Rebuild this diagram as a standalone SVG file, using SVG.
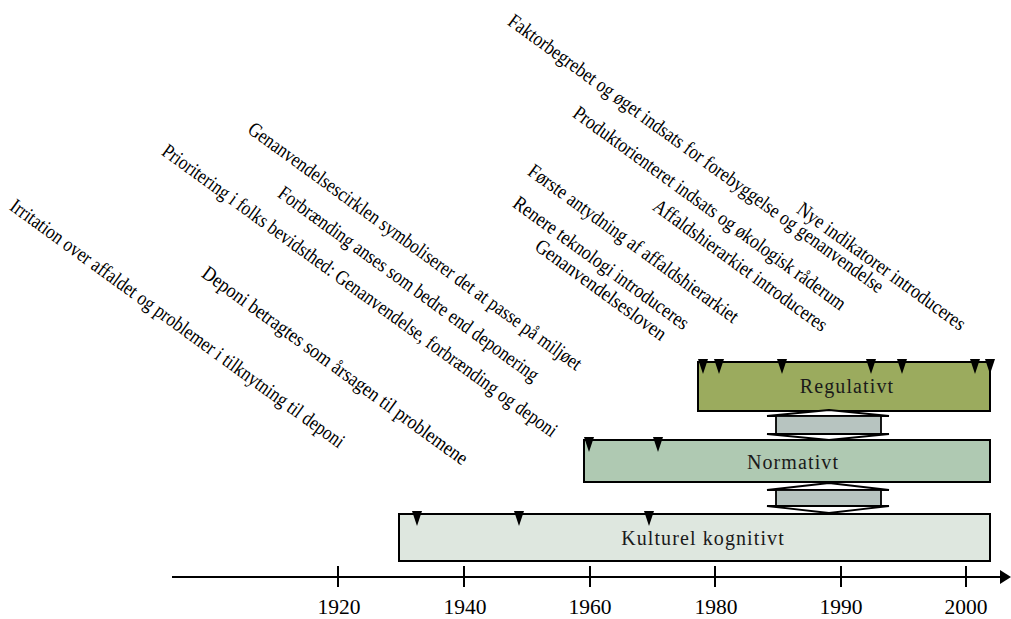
<svg xmlns="http://www.w3.org/2000/svg" width="1011" height="619" viewBox="0 0 1011 619">
<style>
.lbl{font-family:"Liberation Serif","Times New Roman",serif;font-size:20.5px;fill:#000}
.box{stroke:#000;stroke-width:2}
.btxt{font-family:"Liberation Serif","Times New Roman",serif;font-size:20px;fill:#1a1a1a;text-anchor:middle;letter-spacing:1.1px}
.yr{font-family:"Liberation Serif","Times New Roman",serif;font-size:21.5px;fill:#000;text-anchor:middle}
.ax{stroke:#000;stroke-width:2;fill:none}
.arr{fill:#fff;stroke:#000;stroke-width:1.8;stroke-linejoin:miter}
.shaft{fill:#b7c4c0;stroke:#000;stroke-width:1.8}
</style>
<defs>
<polygon id="tri" points="-5,-3 5,-3 0,12" fill="#000"/>
</defs>

<g id="events">
<text class="lbl" transform="translate(8.5,208.9) rotate(36)" textLength="408" lengthAdjust="spacingAndGlyphs">Irritation over affaldet og problemer i tilknytning til deponi</text>
<text class="lbl" transform="translate(200.5,275.9) rotate(36)" textLength="323" lengthAdjust="spacingAndGlyphs">Deponi betragtes som årsagen til problemene</text>
<text class="lbl" transform="translate(160.5,153.9) rotate(36)" textLength="483" lengthAdjust="spacingAndGlyphs">Prioritering i folks bevidsthed: Genanvendelse, forbrænding og deponi</text>
<text class="lbl" transform="translate(276.5,195.9) rotate(36)" textLength="317" lengthAdjust="spacingAndGlyphs">Forbrænding anses som bedre end deponering</text>
<text class="lbl" transform="translate(246.5,131.9) rotate(36)" textLength="407" lengthAdjust="spacingAndGlyphs">Genanvendelsescirklen symboliserer det at passe på miljøet</text>
<text class="lbl" transform="translate(533.5,248.9) rotate(36)" textLength="157" lengthAdjust="spacingAndGlyphs">Genanvendelsesloven</text>
<text class="lbl" transform="translate(511.5,205.9) rotate(36)" textLength="212" lengthAdjust="spacingAndGlyphs">Renere teknologi introduceres</text>
<text class="lbl" transform="translate(526.5,173.9) rotate(36)" textLength="255" lengthAdjust="spacingAndGlyphs">Første antydning af affaldshierarkiet</text>
<text class="lbl" transform="translate(651.5,208.9) rotate(36)" textLength="210" lengthAdjust="spacingAndGlyphs">Affaldshierarkiet introduceres</text>
<text class="lbl" transform="translate(571.5,115.9) rotate(36)" textLength="332" lengthAdjust="spacingAndGlyphs">Produktorienteret indsats og økologisk råderum</text>
<text class="lbl" transform="translate(506.5,23.9) rotate(36)" textLength="459" lengthAdjust="spacingAndGlyphs">Faktorbegrebet og øget indsats for forebyggelse og genanvendelse</text>
<text class="lbl" transform="translate(795.5,211.9) rotate(36)" textLength="203" lengthAdjust="spacingAndGlyphs">Nye indikatorer introduceres</text>
</g>

<g id="node-regulativt">
<rect class="box" x="698" y="362" width="292" height="49" fill="#9bab5e"/>
<text class="btxt" x="847" y="393">Regulativt</text>
</g>
<g id="node-normativt">
<rect class="box" x="584" y="440" width="406" height="42" fill="#afc9b2"/>
<text class="btxt" x="793" y="469">Normativt</text>
</g>
<g id="node-kulturel">
<rect class="box" x="399" y="514" width="591" height="47" fill="#dee7df"/>
<text class="btxt" x="703" y="545">Kulturel kognitivt</text>
</g>

<g id="connectors">
<polygon class="arr" points="767,416 829,410 889,416"/>
<rect class="shaft" x="776" y="416" width="105" height="18"/>
<polygon class="arr" points="767,434 829,440 889,434"/>
<polygon class="arr" points="767,490 829,483 889,490"/>
<rect class="shaft" x="776" y="490" width="105" height="16"/>
<polygon class="arr" points="767,506 829,513 889,506"/>

<use href="#tri" x="703" y="362"/>
<use href="#tri" x="719" y="362"/>
<use href="#tri" x="782" y="362"/>
<use href="#tri" x="871" y="362"/>
<use href="#tri" x="902" y="362"/>
<use href="#tri" x="975" y="362"/>
<use href="#tri" x="990" y="362"/>
<use href="#tri" x="589" y="440"/>
<use href="#tri" x="658" y="440"/>
<use href="#tri" x="417" y="514"/>
<use href="#tri" x="519" y="514"/>
<use href="#tri" x="649" y="514"/>
</g>

<g id="axis">
<line class="ax" x1="172" y1="577" x2="1001" y2="577"/>
<polygon points="1000,570 1011,577 1000,584" fill="#000"/>
<g class="ax">
<line x1="338" y1="566" x2="338" y2="587"/>
<line x1="464" y1="566" x2="464" y2="587"/>
<line x1="590" y1="566" x2="590" y2="587"/>
<line x1="715" y1="566" x2="715" y2="587"/>
<line x1="841" y1="566" x2="841" y2="587"/>
<line x1="966" y1="566" x2="966" y2="587"/>
</g>
<text class="yr" x="339" y="614">1920</text>
<text class="yr" x="465" y="614">1940</text>
<text class="yr" x="590" y="614">1960</text>
<text class="yr" x="716" y="614">1980</text>
<text class="yr" x="841" y="614">1990</text>
<text class="yr" x="966" y="614">2000</text>
</g>
</svg>
